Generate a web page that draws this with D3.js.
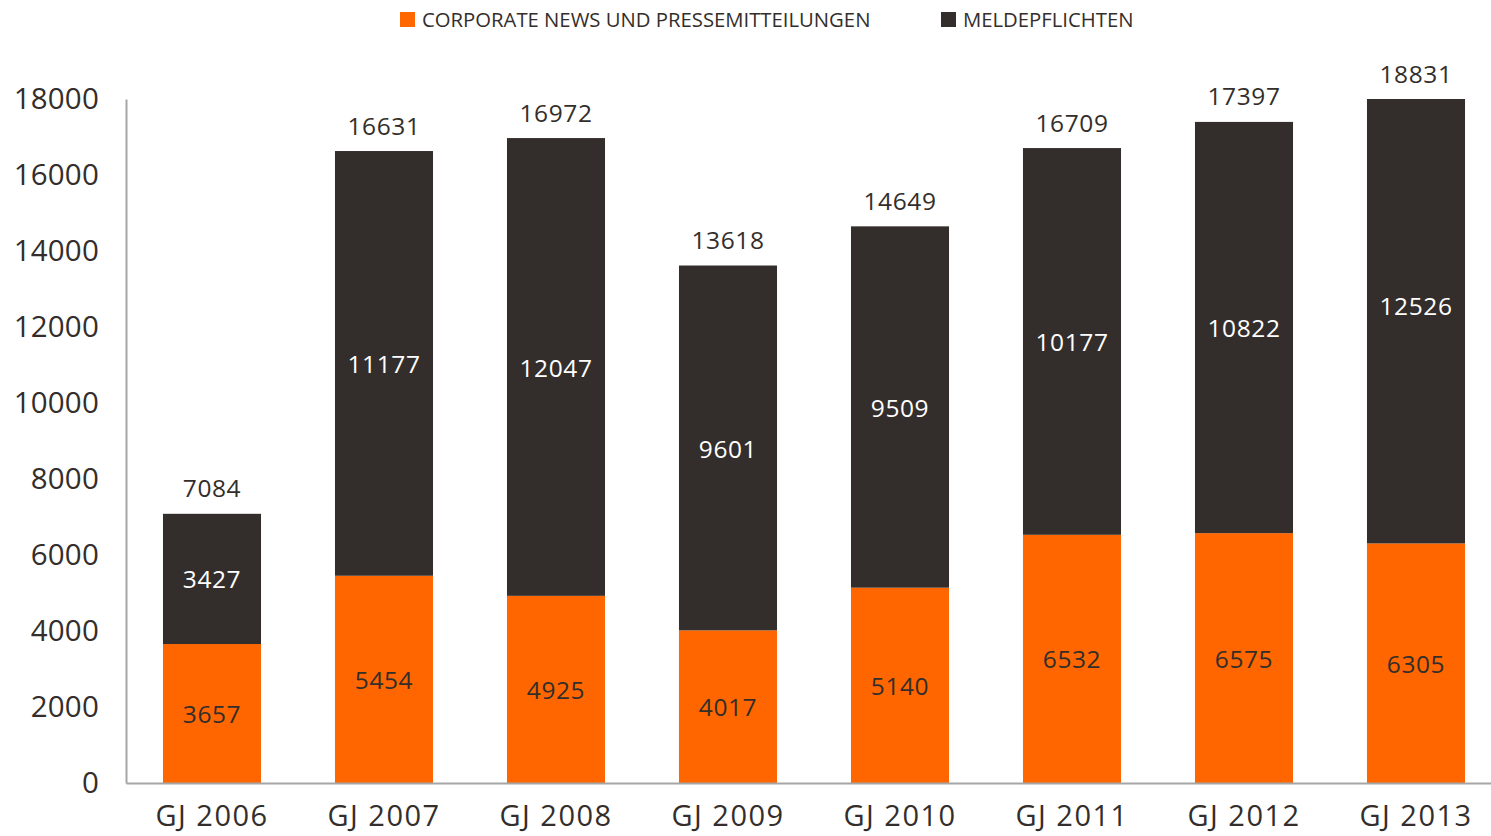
<!DOCTYPE html>
<html>
<head>
<meta charset="utf-8">
<script src="https://cdn.jsdelivr.net/npm/d3@7"></script>
<style>
  body { margin: 0; background: #fff; }
  svg { display: block; font-family: "Open Sans", "Noto Sans", sans-serif; }
</style>
</head>
<body>
<svg width="1491" height="836"></svg>
<script>
// Data
const years = ['GJ 2006', 'GJ 2007', 'GJ 2008', 'GJ 2009', 'GJ 2010', 'GJ 2011', 'GJ 2012', 'GJ 2013'];
const corporateNews = [3657, 5454, 4925, 4017, 5140, 6532, 6575, 6305];
const meldepflichten = [3427, 11177, 12047, 9601, 9509, 10177, 10822, 12526];
const totals = [7084, 16631, 16972, 13618, 14649, 16709, 17397, 18831];
const yTicks = [0, 2000, 4000, 6000, 8000, 10000, 12000, 14000, 16000, 18000];
const seriesNames = ['CORPORATE NEWS UND PRESSEMITTEILUNGEN', 'MELDEPFLICHTEN'];

const orange = '#ff6600';
const dark = '#332e2b';
const textColor = '#332e2b';

const svg = d3.select('svg');

// Plot area
const plotLeft = 126, plotRight = 1502, plotTop = 99, plotBottom = 783;

const x = d3.scaleBand()
  .domain(years)
  .range([plotLeft, plotRight])
  .paddingInner(0.43)
  .paddingOuter(0.215);

const y = d3.scaleLinear()
  .domain([0, 18000])
  .range([plotBottom, plotTop]);

// Stack the two series
const rows = years.map((yr, i) => ({ year: yr, news: corporateNews[i], meld: meldepflichten[i], total: totals[i] }));
const stacked = d3.stack().keys(['news', 'meld'])(rows);
const colors = { news: orange, meld: dark };

// Clip bars at the axis maximum like the original
svg.append('clipPath').attr('id', 'plot-clip')
  .append('rect')
  .attr('x', plotLeft).attr('y', plotTop)
  .attr('width', plotRight - plotLeft).attr('height', plotBottom - plotTop);

const barsG = svg.append('g').attr('clip-path', 'url(#plot-clip)');

stacked.forEach(layer => {
  barsG.selectAll(null)
    .data(layer)
    .enter().append('rect')
      .attr('x', d => x(d.data.year))
      .attr('width', x.bandwidth())
      .attr('y', d => y(d[1]))
      .attr('height', d => y(d[0]) - y(d[1]))
      .attr('fill', colors[layer.key]);
});

// Segment labels (centered on the unclipped segment)
stacked.forEach(layer => {
  svg.selectAll(null)
    .data(layer)
    .enter().append('text')
      .attr('x', d => x(d.data.year) + x.bandwidth() / 2)
      .attr('y', d => (y(d[0]) + y(d[1])) / 2 + 1)
      .attr('dy', '0.35em')
      .attr('text-anchor', 'middle')
      .attr('font-size', 24.5)
      .attr('letter-spacing', 0.6)
      .attr('fill', layer.key === 'news' ? textColor : '#ffffff')
      .text(d => d.data[layer.key]);
});

// Total labels above the bars
svg.selectAll('.total')
  .data(rows)
  .enter().append('text')
    .attr('class', 'total')
    .attr('x', d => x(d.year) + x.bandwidth() / 2)
    .attr('y', d => Math.max(y(d.total), plotTop) - 25)
    .attr('dy', '0.35em')
    .attr('text-anchor', 'middle')
    .attr('font-size', 24.5)
    .attr('letter-spacing', 0.6)
    .attr('fill', textColor)
    .text(d => d.total);

// Y axis
const yAxis = svg.append('g')
  .attr('transform', `translate(${plotLeft},0)`)
  .call(d3.axisLeft(y).tickValues(yTicks).tickSize(0).tickPadding(27).tickFormat(d3.format('d')));
yAxis.select('.domain').attr('stroke', '#a6a6a6').attr('stroke-width', 2);
yAxis.selectAll('text')
  .attr('font-size', 29.5)
  .attr('letter-spacing', 0.2)
  .attr('font-family', '"Open Sans", "Noto Sans", sans-serif')
  .attr('fill', textColor);

// X axis
const xAxis = svg.append('g')
  .attr('transform', `translate(0,${plotBottom})`)
  .call(d3.axisBottom(x).tickSize(0).tickPadding(22));
xAxis.select('.domain').attr('stroke', '#a6a6a6').attr('stroke-width', 2);
xAxis.selectAll('text')
  .attr('font-size', 29)
  .attr('letter-spacing', 1.5)
  .attr('font-family', '"Open Sans", "Noto Sans", sans-serif')
  .attr('fill', textColor);

// Legend
const legendX = [400, 941];
const legendColors = [orange, dark];
const legend = svg.selectAll('.legend')
  .data(seriesNames)
  .enter().append('g')
    .attr('class', 'legend')
    .attr('transform', (d, i) => `translate(${legendX[i]},12)`);
legend.append('rect')
  .attr('width', 15).attr('height', 15)
  .attr('fill', (d, i) => legendColors[i]);
legend.append('text')
  .attr('x', 22).attr('y', 7.5)
  .attr('dy', '0.35em')
  .attr('font-size', 20.3)
  .attr('fill', textColor)
  .text(d => d);
</script>
</body>
</html>
